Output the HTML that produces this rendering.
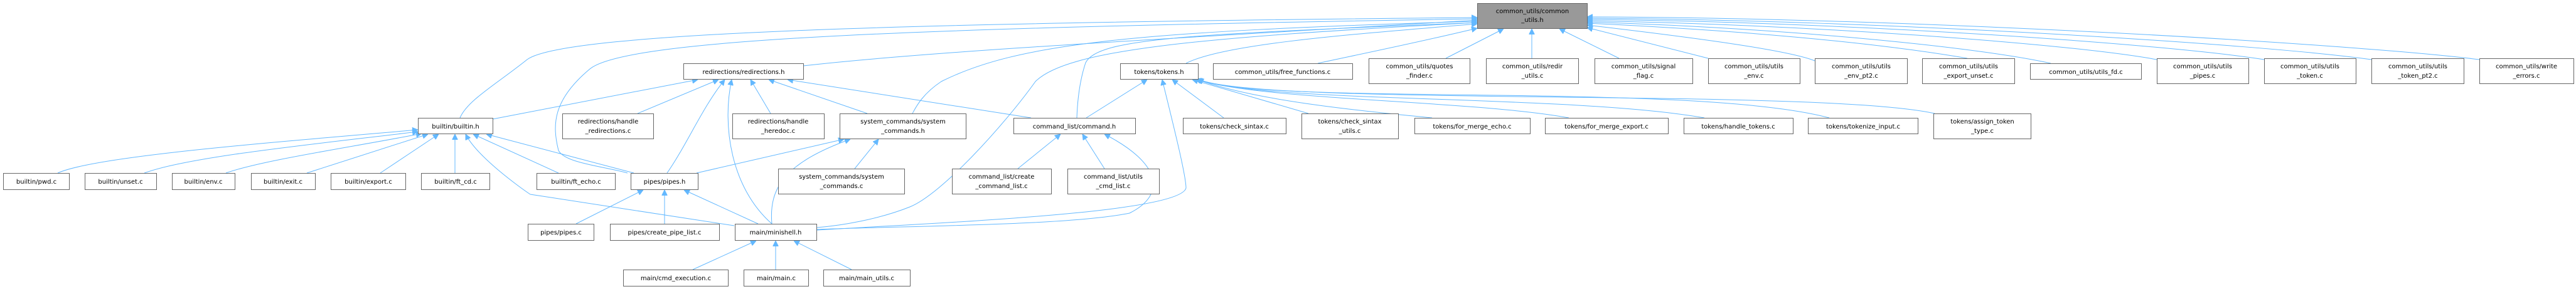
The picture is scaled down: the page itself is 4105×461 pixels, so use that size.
<!DOCTYPE html>
<html><head><meta charset="utf-8"><style>
html,body{margin:0;padding:0;background:#fff;}
svg{display:block}
text{font-family:"DejaVu Sans","Liberation Sans",sans-serif;font-size:10px;fill:#000;text-anchor:middle}
.n{fill:#fff;stroke:#666;stroke-width:1}
.e{fill:none;stroke:#63b8ff;stroke-width:1}
</style></head><body>
<svg width="4105" height="461" viewBox="0 0 4105 461" xmlns="http://www.w3.org/2000/svg">
<defs>
<marker id="a" viewBox="0 0 10 10" refX="10" refY="5" markerWidth="9" markerHeight="9" markerUnits="userSpaceOnUse" orient="auto-start-reverse">
<path d="M0,0 L10,5 L0,10 z" fill="#63b8ff" stroke="#63b8ff"/>
</marker>
</defs>
<g class="edges">
<!-- to common_utils.h -->
<path class="e" marker-start="url(#a)" d="M2354,28 C1500,36 900,50 840,95 C790,135 745,160 733,188"/>
<path class="e" marker-start="url(#a)" d="M2354,30 C1500,44 1000,60 940,110 C880,160 880,200 890,240 C900,260 960,265 1000,276"/>
<path class="e" marker-start="url(#a)" d="M2354,32 C1900,60 1500,80 1280,105"/>
<path class="e" marker-start="url(#a)" d="M2354,34 C1800,50 1620,70 1500,130 C1470,150 1460,170 1454,181"/>
<path class="e" marker-start="url(#a)" d="M2354,36 C1900,60 1700,80 1650,130 C1600,200 1500,310 1450,330 C1400,350 1340,360 1301,363"/>
<path class="e" marker-start="url(#a)" d="M2354,36 C1900,55 1750,60 1730,100 C1720,130 1717,160 1716,188"/>
<path class="e" marker-start="url(#a)" d="M2354,38 C2150,55 1950,70 1890,101"/>
<path class="e" marker-start="url(#a)" d="M2354,45 C2250,70 2150,90 2100,101"/>
<path class="e" marker-start="url(#a)" d="M2396,46 L2304,93"/>
<path class="e" marker-start="url(#a)" d="M2441,46 L2441,93"/>
<path class="e" marker-start="url(#a)" d="M2485,46 L2580,93"/>
<path class="e" marker-start="url(#a)" d="M2529,44 L2722,93"/>
<path class="e" marker-start="url(#a)" d="M2529,40 C2700,60 2850,80 2892,97"/>
<path class="e" marker-start="url(#a)" d="M2529,37 C2800,50 3000,70 3135,93"/>
<path class="e" marker-start="url(#a)" d="M2529,35 C2850,45 3150,75 3268,101"/>
<path class="e" marker-start="url(#a)" d="M2529,33 C2900,40 3300,70 3437,95"/>
<path class="e" marker-start="url(#a)" d="M2529,31 C2950,35 3450,70 3608,95"/>
<path class="e" marker-start="url(#a)" d="M2529,29 C3000,32 3600,70 3779,95"/>
<path class="e" marker-start="url(#a)" d="M2529,27 C3050,28 3750,70 3951,95"/>
<!-- to redirections.h -->
<path class="e" marker-start="url(#a)" d="M1112,127 L785,190"/>
<path class="e" marker-start="url(#a)" d="M1145,127 L1016,181"/>
<path class="e" marker-start="url(#a)" d="M1155,127 C1120,170 1095,230 1063,276"/>
<path class="e" marker-start="url(#a)" d="M1166,127 C1150,200 1165,300 1230,357"/>
<path class="e" marker-start="url(#a)" d="M1196,127 L1228,181"/>
<path class="e" marker-start="url(#a)" d="M1225,127 L1382,181"/>
<path class="e" marker-start="url(#a)" d="M1255,127 L1643,188"/>
<!-- to builtin.h -->
<path class="e" marker-start="url(#a)" d="M666,207 C400,230 150,250 92,276"/>
<path class="e" marker-start="url(#a)" d="M666,210 C500,230 300,250 230,276"/>
<path class="e" marker-start="url(#a)" d="M672,213 C560,235 420,255 360,276"/>
<path class="e" marker-start="url(#a)" d="M682,214 L489,276"/>
<path class="e" marker-start="url(#a)" d="M699,214 L606,276"/>
<path class="e" marker-start="url(#a)" d="M725,214 L725,276"/>
<path class="e" marker-start="url(#a)" d="M754,214 L890,276"/>
<path class="e" marker-start="url(#a)" d="M775,214 L1010,276"/>
<path class="e" marker-start="url(#a)" d="M742,214 C760,250 830,300 845,310 L1170,360"/>
<!-- system_commands.h -->
<path class="e" marker-start="url(#a)" d="M1345,222 L1110,276"/>
<path class="e" marker-start="url(#a)" d="M1355,222 C1250,260 1225,300 1230,357"/>
<path class="e" marker-start="url(#a)" d="M1400,222 L1362,269"/>
<!-- command.h -->
<path class="e" marker-start="url(#a)" d="M1690,214 L1622,269"/>
<path class="e" marker-start="url(#a)" d="M1725,214 L1760,269"/>
<path class="e" marker-start="url(#a)" d="M1760,214 C1850,260 1860,310 1800,340 C1700,360 1450,360 1301,366"/>
<!-- tokens.h -->
<path class="e" marker-start="url(#a)" d="M1828,127 L1731,188"/>
<path class="e" marker-start="url(#a)" d="M1868,127 L1950,188"/>
<path class="e" marker-start="url(#a)" d="M1900,127 L2085,181"/>
<path class="e" marker-start="url(#a)" d="M1905,126 C2000,160 2150,175 2282,188"/>
<path class="e" marker-start="url(#a)" d="M1906,126 C2000,160 2350,160 2500,188"/>
<path class="e" marker-start="url(#a)" d="M1907,126 C2000,165 2500,150 2716,188"/>
<path class="e" marker-start="url(#a)" d="M1908,126 C2000,170 2700,130 2915,188"/>
<path class="e" marker-start="url(#a)" d="M1909,126 C2000,170 2900,140 3083,181"/>
<path class="e" marker-start="url(#a)" d="M1852,127 C1870,200 1890,280 1890,300 C1880,340 1500,355 1301,367"/>
<!-- pipes.h -->
<path class="e" marker-start="url(#a)" d="M1025,303 L918,357"/>
<path class="e" marker-start="url(#a)" d="M1059,303 L1059,357"/>
<path class="e" marker-start="url(#a)" d="M1090,303 L1208,357"/>
<!-- minishell.h -->
<path class="e" marker-start="url(#a)" d="M1205,384 L1104,430"/>
<path class="e" marker-start="url(#a)" d="M1236,384 L1236,430"/>
<path class="e" marker-start="url(#a)" d="M1265,384 L1357,430"/>
</g>
<g class="nodes">
<rect x="2354.5" y="5.5" width="175" height="40" fill="#999" stroke="#666"/>
<text x="2442" y="21">common_utils/common</text><text x="2442" y="35">_utils.h</text>

<rect class="n" x="1089.5" y="101.5" width="191" height="25"/><text x="1185" y="118">redirections/redirections.h</text>
<rect class="n" x="1785.5" y="101.5" width="124" height="25"/><text x="1847" y="118">tokens/tokens.h</text>
<rect class="n" x="1933.5" y="101.5" width="222" height="25"/><text x="2044" y="118">common_utils/free_functions.c</text>
<rect class="n" x="2181.5" y="93.5" width="161" height="40"/><text x="2262" y="109">common_utils/quotes</text><text x="2262" y="124">_finder.c</text>
<rect class="n" x="2368.5" y="93.5" width="147" height="40"/><text x="2442" y="109">common_utils/redir</text><text x="2442" y="124">_utils.c</text>
<rect class="n" x="2541.5" y="93.5" width="156" height="40"/><text x="2619" y="109">common_utils/signal</text><text x="2619" y="124">_flag.c</text>
<rect class="n" x="2722.5" y="93.5" width="146" height="40"/><text x="2795" y="109">common_utils/utils</text><text x="2795" y="124">_env.c</text>
<rect class="n" x="2892.5" y="93.5" width="147" height="40"/><text x="2966" y="109">common_utils/utils</text><text x="2966" y="124">_env_pt2.c</text>
<rect class="n" x="3063.5" y="93.5" width="147" height="40"/><text x="3137" y="109">common_utils/utils</text><text x="3137" y="124">_export_unset.c</text>
<rect class="n" x="3235.5" y="101.5" width="177" height="25"/><text x="3324" y="118">common_utils/utils_fd.c</text>
<rect class="n" x="3437.5" y="93.5" width="146" height="40"/><text x="3510" y="109">common_utils/utils</text><text x="3510" y="124">_pipes.c</text>
<rect class="n" x="3608.5" y="93.5" width="146" height="40"/><text x="3681" y="109">common_utils/utils</text><text x="3681" y="124">_token.c</text>
<rect class="n" x="3779.5" y="93.5" width="147" height="40"/><text x="3853" y="109">common_utils/utils</text><text x="3853" y="124">_token_pt2.c</text>
<rect class="n" x="3951.5" y="93.5" width="150" height="40"/><text x="4026" y="109">common_utils/write</text><text x="4026" y="124">_errors.c</text>

<rect class="n" x="666.5" y="188.5" width="119" height="25"/><text x="726" y="205">builtin/builtin.h</text>
<rect class="n" x="896.5" y="181.5" width="145" height="40"/><text x="969" y="197">redirections/handle</text><text x="969" y="212">_redirections.c</text>
<rect class="n" x="1167.5" y="181.5" width="146" height="40"/><text x="1240" y="197">redirections/handle</text><text x="1240" y="212">_heredoc.c</text>
<rect class="n" x="1338.5" y="181.5" width="201" height="40"/><text x="1439" y="197">system_commands/system</text><text x="1439" y="212">_commands.h</text>
<rect class="n" x="1615.5" y="188.5" width="194" height="25"/><text x="1712" y="205">command_list/command.h</text>
<rect class="n" x="1885.5" y="188.5" width="164" height="25"/><text x="1967" y="205">tokens/check_sintax.c</text>
<rect class="n" x="2074.5" y="181.5" width="154" height="40"/><text x="2151" y="197">tokens/check_sintax</text><text x="2151" y="212">_utils.c</text>
<rect class="n" x="2254.5" y="188.5" width="184" height="25"/><text x="2346" y="205">tokens/for_merge_echo.c</text>
<rect class="n" x="2462.5" y="188.5" width="196" height="25"/><text x="2560" y="205">tokens/for_merge_export.c</text>
<rect class="n" x="2683.5" y="188.5" width="174" height="25"/><text x="2770" y="205">tokens/handle_tokens.c</text>
<rect class="n" x="2881.5" y="188.5" width="175" height="25"/><text x="2969" y="205">tokens/tokenize_input.c</text>
<rect class="n" x="3081.5" y="181.5" width="155" height="40"/><text x="3159" y="197">tokens/assign_token</text><text x="3159" y="212">_type.c</text>

<rect class="n" x="5.5" y="276.5" width="105" height="26"/><text x="58" y="293">builtin/pwd.c</text>
<rect class="n" x="135.5" y="276.5" width="114" height="26"/><text x="192" y="293">builtin/unset.c</text>
<rect class="n" x="274.5" y="276.5" width="100" height="26"/><text x="324" y="293">builtin/env.c</text>
<rect class="n" x="400.5" y="276.5" width="102" height="26"/><text x="451" y="293">builtin/exit.c</text>
<rect class="n" x="527.5" y="276.5" width="119" height="26"/><text x="587" y="293">builtin/export.c</text>
<rect class="n" x="671.5" y="276.5" width="109" height="26"/><text x="726" y="293">builtin/ft_cd.c</text>
<rect class="n" x="855.5" y="276.5" width="125" height="26"/><text x="918" y="293">builtin/ft_echo.c</text>
<rect class="n" x="1005.5" y="276.5" width="107" height="26"/><text x="1059" y="293">pipes/pipes.h</text>
<rect class="n" x="1240.5" y="269.5" width="201" height="40"/><text x="1341" y="285">system_commands/system</text><text x="1341" y="300">_commands.c</text>
<rect class="n" x="1517.5" y="269.5" width="158" height="40"/><text x="1596" y="285">command_list/create</text><text x="1596" y="300">_command_list.c</text>
<rect class="n" x="1701.5" y="269.5" width="146" height="40"/><text x="1774" y="285">command_list/utils</text><text x="1774" y="300">_cmd_list.c</text>

<rect class="n" x="841.5" y="357.5" width="105" height="26"/><text x="894" y="374">pipes/pipes.c</text>
<rect class="n" x="972.5" y="357.5" width="174" height="26"/><text x="1059" y="374">pipes/create_pipe_list.c</text>
<rect class="n" x="1171.5" y="357.5" width="130" height="26"/><text x="1236" y="374">main/minishell.h</text>

<rect class="n" x="993.5" y="430.5" width="167" height="26"/><text x="1077" y="447">main/cmd_execution.c</text>
<rect class="n" x="1185.5" y="430.5" width="103" height="26"/><text x="1237" y="447">main/main.c</text>
<rect class="n" x="1312.5" y="430.5" width="138" height="26"/><text x="1381" y="447">main/main_utils.c</text>
</g>
</svg>
</body></html>
